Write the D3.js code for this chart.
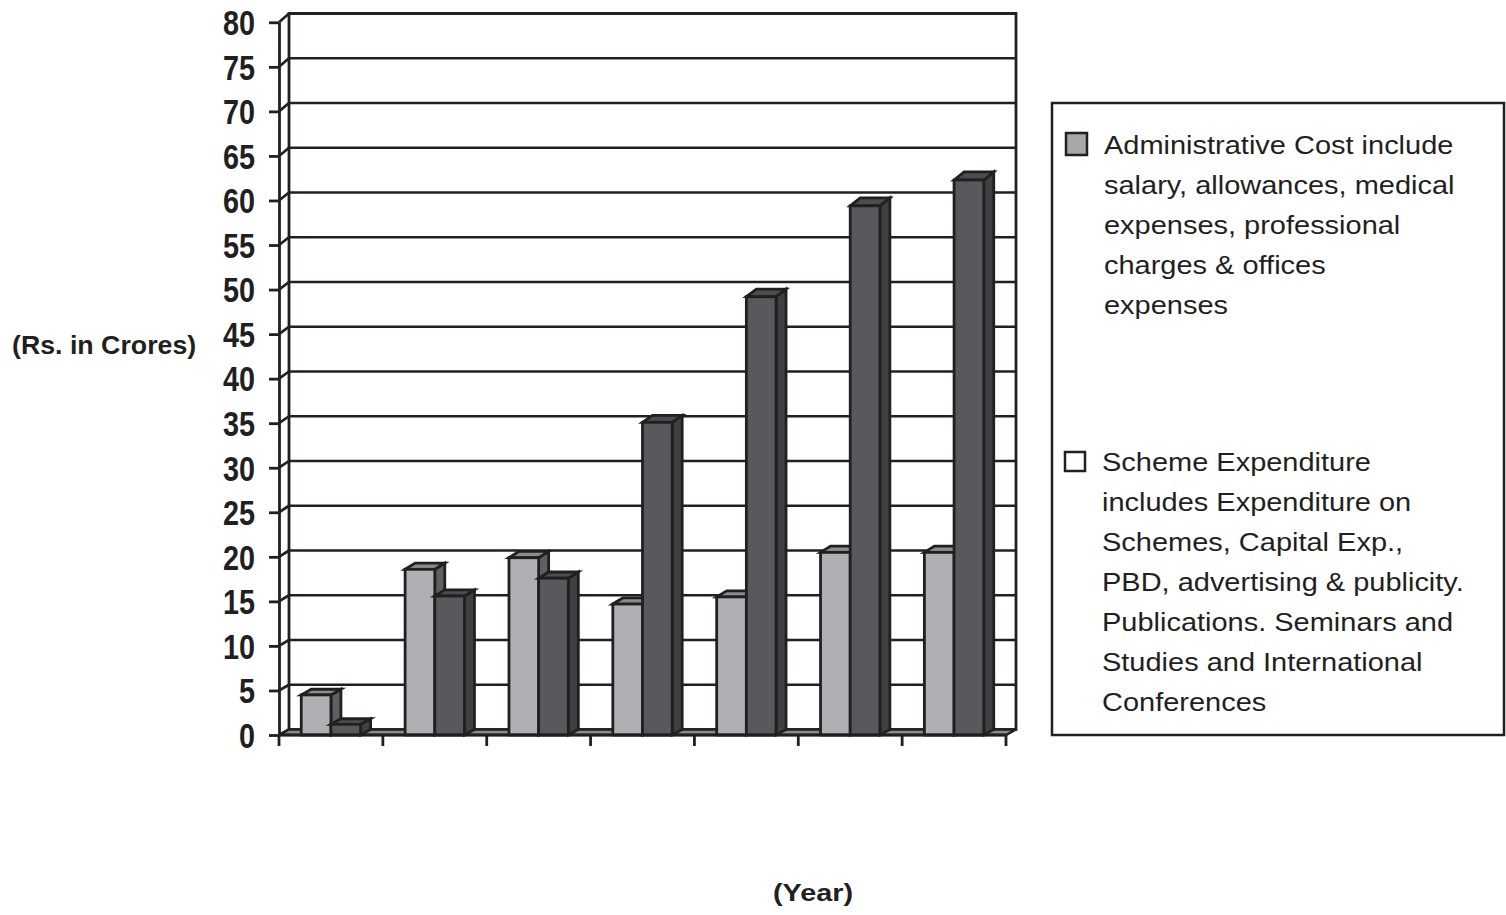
<!DOCTYPE html>
<html>
<head>
<meta charset="utf-8">
<script src="https://cdn.jsdelivr.net/npm/d3@7"></script>
<style>
  html, body { margin: 0; padding: 0; background: #ffffff; }
  svg { display: block; }
  text { font-family: "Liberation Sans", Arial, sans-serif; fill: #231f20; }
</style>
</head>
<body>
<svg id="chart" width="1506" height="915"></svg>
<script>
// Yearly expenditure (Rs. in Crores)
const categories = ["Y1", "Y2", "Y3", "Y4", "Y5", "Y6", "Y7"];
const seriesKeys = ["admin", "scheme"];
const adminCost  = [4.5, 18.6, 19.9, 14.7, 15.5, 20.5, 20.5];
const schemeExp  = [1.2, 15.6, 17.6, 35.1, 49.2, 59.4, 62.3];
const yTickValues = [0, 5, 10, 15, 20, 25, 30, 35, 40, 45, 50, 55, 60, 65, 70, 75, 80];
const yTitle = "(Rs. in Crores)";
const xTitle = "(Year)";
const legendAdmin = [
  "Administrative Cost include",
  "salary, allowances, medical",
  "expenses, professional",
  "charges & offices",
  "expenses"
];
const legendScheme = [
  "Scheme Expenditure",
  "includes Expenditure on",
  "Schemes, Capital Exp.,",
  "PBD, advertising & publicity.",
  "Publications. Seminars and",
  "Studies and International",
  "Conferences"
];

const ink = "#231f20";
const colors = {
  admin:  { front: "#afb0b4", top: "#8b8c8f", side: "#5e5f62", legend: "#a7a8ab" },
  scheme: { front: "#58595c", top: "#4c4d50", side: "#3f4042", legend: "#ffffff" }
};

const svg = d3.select("#chart");

// Front plane and back wall scales (oblique 3-D projection)
const depthX = 10;
const xBand = d3.scaleBand().domain(categories).range([279, 1006]).padding(0);
const xInner = d3.scaleBand().domain(seriesKeys).range([0, xBand.bandwidth()])
  .paddingInner(0).paddingOuter(0.75);
const yFront = d3.scaleLinear().domain([0, 80]).range([735, 22.3]);
const yBack  = d3.scaleLinear().domain([0, 80]).range([729.5, 13.5]);

const x0 = xBand.range()[0], x1 = xBand.range()[1];

// Back wall
svg.append("rect")
  .attr("x", x0 + depthX).attr("y", yBack(80))
  .attr("width", x1 - x0).attr("height", yBack(0) - yBack(80))
  .attr("fill", "#ffffff").attr("stroke", ink).attr("stroke-width", 2.8);

// Wall gridlines + side-wall connectors
const grid = svg.append("g").attr("stroke", ink).attr("stroke-width", 2.7).attr("fill", "none");
grid.selectAll("line.g").data(yTickValues.filter(v => v > 0)).join("line")
  .attr("class", "g")
  .attr("x1", x0 + depthX).attr("x2", x1 + depthX)
  .attr("y1", d => yBack(d)).attr("y2", d => yBack(d));
grid.selectAll("line.s").data(yTickValues).join("line")
  .attr("class", "s")
  .attr("x1", x0).attr("y1", d => yFront(d))
  .attr("x2", x0 + depthX).attr("y2", d => yBack(d));

// Floor
svg.append("path")
  .attr("d", `M${x0},${yFront(0)}L${x1},${yFront(0)}L${x1 + depthX},${yBack(0)}L${x0 + depthX},${yBack(0)}Z`)
  .attr("fill", "#8a8b8e").attr("stroke", ink).attr("stroke-width", 2.5);

// Columns
const rows = categories.map((c, i) => ({ cat: c, values: [
  { key: "admin", value: adminCost[i] },
  { key: "scheme", value: schemeExp[i] }
]}));

const groups = svg.selectAll("g.cat").data(rows).join("g").attr("class", "cat");
groups.each(function(row) {
  const g = d3.select(this);
  row.values.forEach(d => {
    const xl = xBand(row.cat) + xInner(d.key);
    const w = xInner.bandwidth();
    const yf = yFront(d.value), yb = yBack(d.value);
    const yf0 = yFront(0), yb0 = yBack(0);
    const c = colors[d.key];
    const bar = g.append("g").attr("stroke", ink).attr("stroke-width", 2.8).attr("stroke-linejoin", "miter");
    bar.append("path")
      .attr("d", `M${xl + w},${yf}L${xl + w + depthX},${yb}L${xl + w + depthX},${yb0}L${xl + w},${yf0}Z`)
      .attr("fill", c.side);
    bar.append("path")
      .attr("d", `M${xl},${yf}L${xl + depthX},${yb}L${xl + w + depthX},${yb}L${xl + w},${yf}Z`)
      .attr("fill", c.top);
    bar.append("rect")
      .attr("x", xl).attr("y", yf).attr("width", w).attr("height", yf0 - yf)
      .attr("fill", c.front);
  });
});

// Front axes
const yAxis = d3.axisLeft(yFront).tickValues(yTickValues).tickSize(10).tickSizeOuter(0).tickFormat("");
const yAxisG = svg.append("g").attr("transform", `translate(${x0},0)`).call(yAxis);
yAxisG.selectAll("path, line").attr("stroke", ink).attr("stroke-width", 2.8);

svg.append("line")
  .attr("x1", x0).attr("x2", x1).attr("y1", yFront(0)).attr("y2", yFront(0))
  .attr("stroke", ink).attr("stroke-width", 2.8);
const xTickPos = categories.map(c => xBand(c)).concat([x1]);
svg.selectAll("line.xt").data(xTickPos).join("line").attr("class", "xt")
  .attr("x1", d => d).attr("x2", d => d)
  .attr("y1", yFront(0)).attr("y2", yFront(0) + 11)
  .attr("stroke", ink).attr("stroke-width", 2.8);

// Tick labels (bold, condensed digits)
svg.selectAll("text.yl").data(yTickValues).join("text").attr("class", "yl")
  .attr("transform", d => `translate(255,${yFront(d) + 12.8}) scale(0.8,1)`)
  .attr("text-anchor", "end")
  .style("font-size", "36px").style("font-weight", "bold")
  .text(d => d);

// Axis titles
svg.append("text")
  .attr("transform", "translate(12,354) scale(1.07,1)")
  .style("font-size", "25px").style("font-weight", "bold")
  .text(yTitle);
svg.append("text")
  .attr("transform", "translate(773,901) scale(1.2,1)")
  .style("font-size", "24px").style("font-weight", "bold")
  .text(xTitle);

// Legend
const legend = svg.append("g");
legend.append("rect")
  .attr("x", 1052).attr("y", 103).attr("width", 452).attr("height", 632)
  .attr("fill", "#ffffff").attr("stroke", ink).attr("stroke-width", 2.5);

const legendItems = [
  { key: "admin", lines: legendAdmin, box: [1066, 133, 21, 22], tx: 1104, base: 154.3 },
  { key: "scheme", lines: legendScheme, box: [1065, 452, 20, 19], tx: 1102, base: 471 }
];
legendItems.forEach(item => {
  legend.append("rect")
    .attr("x", item.box[0]).attr("y", item.box[1])
    .attr("width", item.box[2]).attr("height", item.box[3])
    .attr("fill", colors[item.key].legend).attr("stroke", ink).attr("stroke-width", 2.5);
  legend.selectAll(null).data(item.lines).join("text")
    .attr("transform", (d, i) => `translate(${item.tx},${item.base + i * 40}) scale(1.115,1)`)
    .style("font-size", "26px")
    .text(d => d);
});
</script>
</body>
</html>
